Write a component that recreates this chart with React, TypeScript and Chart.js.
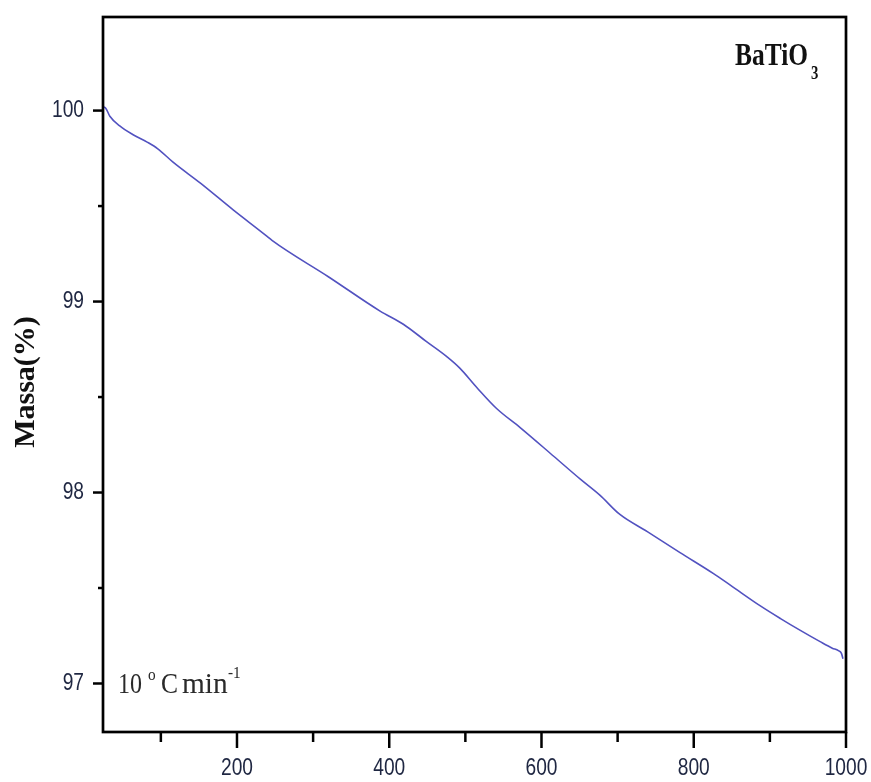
import React, { useEffect, useRef } from 'react';
import { Chart, registerables } from 'chart.js';

Chart.register(...registerables);

// Thermogravimetric curve of BaTiO3 (heating rate 10 °C/min)
const temperatureC = [
  25, 28, 33, 46, 63, 82, 96, 116, 152, 195, 240, 246, 320, 388, 419, 449, 476,
  493, 515, 541, 572, 616, 651, 677, 703, 739, 782, 826, 848, 888, 914, 940,
  966, 982, 990, 994, 996,
];
const massPercent = [
  100.02, 100.01, 99.97, 99.92, 99.875, 99.835, 99.8, 99.73, 99.62, 99.48,
  99.34, 99.32, 99.13, 98.95, 98.88, 98.79, 98.71, 98.65, 98.55, 98.44, 98.34,
  98.19, 98.07, 97.985, 97.885, 97.795, 97.685, 97.575, 97.515, 97.405, 97.34,
  97.278, 97.219, 97.185, 97.172, 97.158, 97.13,
];

const xMajorTicks = [200, 400, 600, 800, 1000];
const xMinorTicks = [100, 300, 500, 700, 900];
const yMajorTicks = [97, 98, 99, 100];
const yMinorTicks = [97.5, 98.5, 99.5];

const X_MIN = 24;
const X_MAX = 1000;
const Y_MIN = 96.746;
const Y_MAX = 100.49;

const TICK_COLOR = '#1f2742';
const SANS = '"Liberation Sans", Arial, sans-serif';
const SERIF = '"Liberation Serif", "Times New Roman", serif';

function squeezedText(
  ctx: CanvasRenderingContext2D,
  text: string,
  x: number,
  y: number,
  font: string,
  align: CanvasTextAlign,
  baseline: CanvasTextBaseline,
  sx: number,
  color: string
) {
  ctx.save();
  ctx.translate(x, y);
  ctx.scale(sx, 1);
  ctx.font = font;
  ctx.textAlign = align;
  ctx.textBaseline = baseline;
  ctx.fillStyle = color;
  ctx.fillText(text, 0, 0);
  ctx.restore();
}

const framePlugin = {
  id: 'originFrame',
  afterDatasetsDraw(chart: any) {
    const { ctx, chartArea } = chart;
    const xs = chart.scales.x;
    const ys = chart.scales.y;
    const { left, right, top, bottom } = chartArea;

    ctx.save();
    ctx.strokeStyle = '#000';

    // ticks (outside)
    ctx.lineWidth = 2.5;
    ctx.lineCap = 'butt';
    const xTick = (v: number, len: number) => {
      const px = xs.getPixelForValue(v);
      ctx.beginPath();
      ctx.moveTo(px, bottom);
      ctx.lineTo(px, bottom + len);
      ctx.stroke();
    };
    xMajorTicks.forEach((v) => xTick(v, 16));
    xMinorTicks.forEach((v) => xTick(v, 10));

    const yTick = (v: number, len: number) => {
      const py = ys.getPixelForValue(v);
      ctx.beginPath();
      ctx.moveTo(left, py);
      ctx.lineTo(left - len, py);
      ctx.stroke();
    };
    yMajorTicks.forEach((v) => yTick(v, 10));
    yMinorTicks.forEach((v) => yTick(v, 5));

    // box
    ctx.lineWidth = 2.7;
    ctx.lineCap = 'square';
    ctx.strokeRect(left, top, right - left, bottom - top);

    // tick labels
    const tickFont = `24px ${SANS}`;
    xMajorTicks.forEach((v) => {
      squeezedText(ctx, String(v), xs.getPixelForValue(v), 768, tickFont, 'center', 'middle', 0.8, TICK_COLOR);
    });
    yMajorTicks.forEach((v) => {
      squeezedText(ctx, String(v), 84, ys.getPixelForValue(v), tickFont, 'right', 'middle', 0.8, TICK_COLOR);
    });

    // axis title
    ctx.save();
    ctx.translate(26, 382);
    ctx.rotate(-Math.PI / 2);
    ctx.font = `bold 30px ${SERIF}`;
    ctx.textAlign = 'center';
    ctx.textBaseline = 'middle';
    ctx.fillStyle = '#111';
    ctx.fillText('Massa(%)', 0, 0);
    ctx.restore();

    // sample label
    squeezedText(ctx, 'BaTiO', 735, 65, `bold 31px ${SERIF}`, 'left', 'alphabetic', 0.82, '#111');
    squeezedText(ctx, '3', 811, 79, `bold 18px ${SERIF}`, 'left', 'alphabetic', 0.82, '#111');

    // heating rate label
    const rateColor = '#2a2a2a';
    squeezedText(ctx, '10', 118, 693, `30px ${SERIF}`, 'left', 'alphabetic', 0.8, rateColor);
    squeezedText(ctx, 'o', 148, 680, `17px ${SERIF}`, 'left', 'alphabetic', 0.9, rateColor);
    squeezedText(ctx, 'C', 161, 693, `30px ${SERIF}`, 'left', 'alphabetic', 0.85, rateColor);
    squeezedText(ctx, 'min', 182, 693, `30px ${SERIF}`, 'left', 'alphabetic', 0.98, rateColor);
    squeezedText(ctx, '-1', 228, 678, `17px ${SERIF}`, 'left', 'alphabetic', 0.9, rateColor);

    ctx.restore();
  },
};

export default function App() {
  const canvasRef = useRef<HTMLCanvasElement | null>(null);

  useEffect(() => {
    const canvas = canvasRef.current;
    if (!canvas) return;
    const chart = new Chart(canvas, {
      type: 'line',
      data: {
        datasets: [
          {
            data: temperatureC.map((t, i) => ({ x: t, y: massPercent[i] })),
            borderColor: 'rgb(82, 82, 192)',
            borderWidth: 1.6,
            pointRadius: 0,
            fill: false,
            cubicInterpolationMode: 'monotone',
          },
        ],
      },
      options: {
        animation: false,
        responsive: false,
        devicePixelRatio: 1,
        layout: { padding: { left: 103, right: 25, top: 17, bottom: 50 } },
        plugins: {
          legend: { display: false },
          tooltip: { enabled: false },
        },
        scales: {
          x: { type: 'linear', min: X_MIN, max: X_MAX, display: false },
          y: { type: 'linear', min: Y_MIN, max: Y_MAX, display: false },
        },
      },
      plugins: [framePlugin],
    });
    return () => chart.destroy();
  }, []);

  return (
    <div style={{ position: 'fixed', left: 0, top: 0, width: 871, height: 782, background: '#fff' }}>
      <canvas ref={canvasRef} width={871} height={782} style={{ width: 871, height: 782, display: 'block' }} />
    </div>
  );
}
